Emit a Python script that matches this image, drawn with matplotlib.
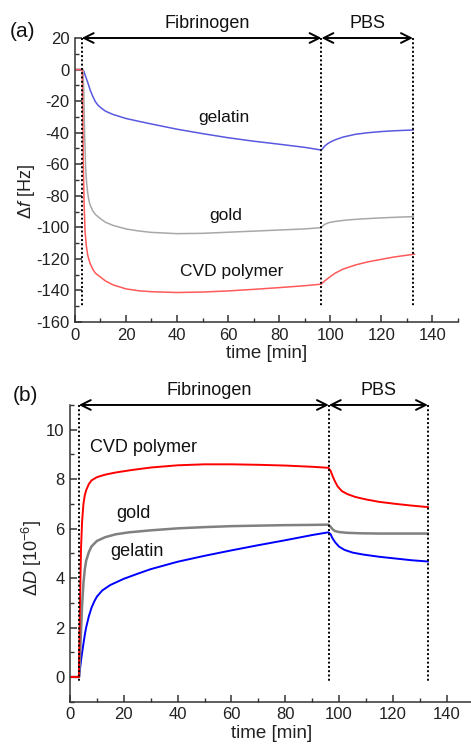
import matplotlib
matplotlib.use("Agg")
import matplotlib.pyplot as plt
from matplotlib.ticker import MultipleLocator

plt.rcParams['font.family'] = ['Liberation Sans', 'DejaVu Sans']
plt.rcParams['mathtext.fontset'] = 'custom'
plt.rcParams['mathtext.rm'] = 'Liberation Sans'
plt.rcParams['mathtext.it'] = 'Liberation Sans:italic'
plt.rcParams['axes.unicode_minus'] = False

# ---------------- data: panel (a) frequency shift ----------------
a_gel_t = [0, 3.0, 3.5, 4, 5, 6, 7, 8, 9, 10, 12, 15, 20, 25, 30, 40, 50, 60, 70, 80, 90,
           96.5, 97, 97.5, 98, 99, 100, 102, 105, 110, 115, 120, 125, 132.5]
a_gel_v = [0, 0, -1, -3.5, -8, -13, -17, -20.3, -22.5, -24, -26.4, -28.5, -31, -32.8, -34.5,
           -37.8, -40.6, -43.2, -45.4, -47.3, -49.3, -51, -50.2, -49.2, -48.3, -47, -46, -44.5,
           -42.8, -41, -40, -39.3, -38.8, -38.3]

a_gold_t = [0, 3.2, 3.5, 3.8, 4.2, 4.6, 5, 5.5, 6, 7, 8, 10, 12, 15, 20, 25, 30, 40, 50, 60, 70,
            80, 90, 96.5, 97, 98, 99, 100, 103, 107, 112, 120, 126, 132.5]
a_gold_v = [0, 0, -15, -40, -62, -72, -78, -83, -86, -89.5, -91.8, -94.5, -96.8, -98.8, -101,
            -102.3, -103.2, -104, -103.8, -103.1, -102.4, -101.7, -101, -100.2, -99.2, -98,
            -97.3, -96.8, -96, -95.3, -94.7, -94, -93.6, -93.2]

a_cvd_t = [0, 2.9, 3.1, 3.3, 3.6, 4, 4.5, 5, 5.5, 6, 7, 8, 10, 12, 15, 20, 25, 30, 40, 50, 60,
           70, 80, 90, 96.5, 97, 98, 99, 100, 102, 105, 110, 115, 120, 125, 133]
a_cvd_v = [0, 0, -30, -60, -85, -103, -112, -117.5, -120.5, -123, -126.5, -129, -131.5, -134,
           -136.5, -139, -140.2, -140.8, -141.3, -141, -140.3, -139.3, -138.2, -137, -136,
           -135.2, -133.8, -132.5, -131.3, -129, -126.5, -123.8, -121.8, -120.3, -118.8, -117]

# ---------------- data: panel (b) dissipation shift ----------------
b_cvd_t = [0, 3.3, 3.5, 3.8, 4.1, 4.5, 5, 5.5, 6, 7, 8, 10, 13, 17, 23, 30, 40, 50, 60, 70, 80,
           90, 96, 96.8, 97.5, 98.5, 99.5, 101, 103, 106, 110, 115, 121, 127, 133]
b_cvd_v = [0, 0, 1.5, 3.5, 5.2, 6.3, 7.0, 7.35, 7.55, 7.8, 7.95, 8.08, 8.18, 8.27, 8.37, 8.47,
           8.56, 8.6, 8.6, 8.58, 8.55, 8.5, 8.46, 8.35, 8.15, 7.9, 7.7, 7.52, 7.4, 7.28, 7.18,
           7.08, 7.0, 6.93, 6.87]

b_gold_t = [0, 3.4, 3.7, 4, 4.5, 5, 5.5, 6, 7, 8, 10, 13, 17, 22, 30, 40, 50, 60, 70, 80, 90,
            96, 96.8, 97.5, 98.5, 100, 103, 108, 115, 125, 133]
b_gold_v = [0, 0, 0.8, 1.6, 2.9, 3.8, 4.35, 4.7, 5.05, 5.28, 5.5, 5.65, 5.77, 5.85, 5.93, 6.01,
            6.06, 6.1, 6.12, 6.14, 6.15, 6.16, 6.08, 5.98, 5.9, 5.86, 5.83, 5.81, 5.8, 5.8, 5.8]

b_gel_t = [0, 3.4, 3.8, 4.2, 4.6, 5, 5.5, 6, 7, 8, 9, 10, 12, 15, 20, 25, 30, 40, 50, 60, 70,
           80, 90, 96, 96.8, 97.5, 98.5, 100, 102, 105, 109, 115, 121, 127, 133]
b_gel_v = [0, 0, 0.4, 0.75, 1.05, 1.35, 1.7, 2.0, 2.45, 2.8, 3.05, 3.25, 3.5, 3.72, 3.97, 4.17,
           4.36, 4.66, 4.9, 5.12, 5.33, 5.53, 5.74, 5.85, 5.78, 5.62, 5.45, 5.27, 5.14, 5.03,
           4.95, 4.86, 4.79, 4.72, 4.67]

# phase boundaries [min]
a_phase = [2.7, 96.6, 132.4]
b_phase = [3.3, 96.2, 133.0]
phase_names = ["Fibrinogen", "PBS"]

fig = plt.figure(figsize=(4.71, 7.48), dpi=100)
axa = fig.add_axes([0.159, 0.5695, 0.813, 0.3797])
axb = fig.add_axes([0.1486, 0.0619, 0.857, 0.3967])


def style(ax):
    for s in ['top', 'right']:
        ax.spines[s].set_visible(False)
    for s in ['left', 'bottom']:
        ax.spines[s].set_linewidth(1.1)
        ax.spines[s].set_color('#333333')
    ax.tick_params(which='both', direction='in', colors='#333333', labelcolor='#222222',
                   labelsize=12)
    ax.tick_params(which='major', length=5, width=1.1, pad=4)
    ax.tick_params(which='minor', length=3, width=1.0)
    ax.xaxis.set_major_locator(MultipleLocator(20))
    ax.xaxis.set_minor_locator(MultipleLocator(10))
    ax.set_xlim(0, 150)
    ax.set_xlabel('time [min]', fontsize=13.5, labelpad=2, color='#222222')


def phases(ax, xs, ytop, ybot):
    for x in xs:
        ax.plot([x, x], [ytop, ybot], color='black', lw=1.4, ls=(0, (1, 1.2)),
                clip_on=False, zorder=5)
    for i, name in enumerate(phase_names):
        ax.annotate('', xy=(xs[i], ytop), xytext=(xs[i + 1], ytop),
                    arrowprops=dict(arrowstyle='<->,head_length=0.7,head_width=0.35',
                                    color='black', lw=1.4, shrinkA=0, shrinkB=0),
                    annotation_clip=False)
        ax.annotate(name, xy=((xs[i] + xs[i + 1]) / 2 + (2 if i == 0 else 0), ytop),
                    xytext=(0, 4), textcoords='offset points', ha='center', va='bottom',
                    fontsize=13, color='#111111', annotation_clip=False)


# ---- panel (a) ----
style(axa)
axa.set_ylim(-160, 20)
axa.yaxis.set_major_locator(MultipleLocator(20))
axa.yaxis.set_minor_locator(MultipleLocator(10))
axa.plot(a_gel_t, a_gel_v, color='#5858e0', lw=1.1)
axa.plot(a_gold_t, a_gold_v, color='#a8a8a8', lw=1.1)
axa.plot(a_cvd_t, a_cvd_v, color='#ff5a5a', lw=1.1)
phases(axa, a_phase, 20, -150)
axa.text(58.5, -35, 'gelatin', ha='center', va='bottom', fontsize=12.5, color='#111111')
axa.text(59, -97, 'gold', ha='center', va='bottom', fontsize=12.5, color='#111111')
axa.text(61.5, -133, 'CVD polymer', ha='center', va='bottom', fontsize=12.5, color='#111111')
axa.set_ylabel(r'$\mathit{Δf}$ [Hz]', fontsize=13, color='#222222')
axa.yaxis.set_label_coords(-0.1, 0.46)
fig.text(0.047, 0.958, '(a)', fontsize=15, ha='center', va='center', color='#111111')

# ---- panel (b) ----
style(axb)
axb.set_ylim(-1, 11)
axb.yaxis.set_major_locator(MultipleLocator(2))
axb.yaxis.set_minor_locator(MultipleLocator(1))
axb.plot(b_gel_t, b_gel_v, color='#0000ff', lw=1.4)
axb.plot(b_gold_t, b_gold_v, color='#808080', lw=1.8)
axb.plot(b_cvd_t, b_cvd_v, color='#ff0000', lw=1.4)
phases(axb, b_phase, 11, -0.2)
axb.text(27.5, 8.95, 'CVD polymer', ha='center', va='bottom', fontsize=13, color='#111111')
axb.text(23.5, 6.25, 'gold', ha='center', va='bottom', fontsize=13, color='#111111')
axb.text(24.8, 4.75, 'gelatin', ha='center', va='bottom', fontsize=13, color='#111111')
axb.set_ylabel(r'$\mathit{ΔD}$ [10$^{-6}$]', fontsize=13, color='#222222')
axb.yaxis.set_label_coords(-0.064, 0.485)
fig.text(0.053, 0.471, '(b)', fontsize=15, ha='center', va='center', color='#111111')

fig.savefig('out.png', dpi=100)
